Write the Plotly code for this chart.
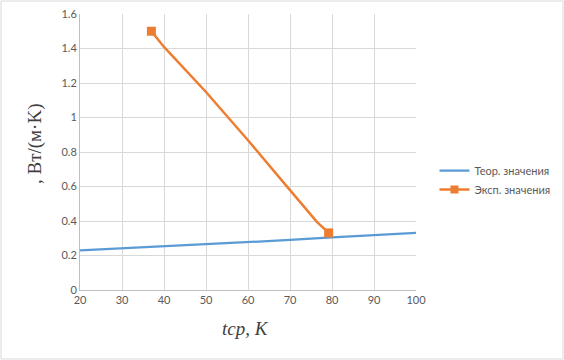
import plotly.graph_objects as go

theor_x = [20, 30, 40, 50, 60, 70, 80, 90, 100]
theor_y = [0.230, 0.242, 0.252, 0.265, 0.278, 0.290, 0.305, 0.318, 0.331]

exp_x = [37.0, 40, 50, 60, 70, 76.4, 79.2]
exp_y = [1.50, 1.409, 1.148, 0.868, 0.579, 0.395, 0.331]
exp_end_x = [exp_x[0], exp_x[-1]]
exp_end_y = [exp_y[0], exp_y[-1]]

x_ticks = [20, 30, 40, 50, 60, 70, 80, 90, 100]
y_ticks = [0, 0.2, 0.4, 0.6, 0.8, 1, 1.2, 1.4, 1.6]

W, H = 564, 360
L, R, T, B = 80, 148, 14, 70
pw, ph = W - L - R, H - T - B

BLUE = "#5b9bd5"
ORANGE = "#ed7d31"

fig = go.Figure()
fig.add_trace(go.Scatter(x=theor_x, y=theor_y, mode="lines", name="Теор. значения",
                         line=dict(color=BLUE, width=2.25)))
fig.add_trace(go.Scatter(x=exp_x, y=exp_y, mode="lines", name="Эксп. значения",
                         line=dict(color=ORANGE, width=2.5), showlegend=False))
fig.add_trace(go.Scatter(x=exp_end_x, y=exp_end_y, mode="markers", name="Эксп. значения",
                         marker=dict(symbol="square", size=9, color=ORANGE), showlegend=False))
fig.add_trace(go.Scatter(x=[None], y=[None], mode="lines+markers", name="Эксп. значения",
                         line=dict(color=ORANGE, width=2.5),
                         marker=dict(symbol="square", size=8, color=ORANGE)))

axis_common = dict(showgrid=True, gridcolor="#d9d9d9", gridwidth=1, zeroline=False,
                   showline=True, linecolor="#bfbfbf", linewidth=1, automargin=False,
                   tickfont=dict(family="Lato", size=11, color="#595959"), ticks="")

fig.update_layout(
    width=W, height=H,
    margin=dict(l=L, r=R, t=T, b=B, autoexpand=False),
    paper_bgcolor="white", plot_bgcolor="white",
    xaxis=dict(range=[20, 100], tickvals=x_ticks, **axis_common),
    yaxis=dict(range=[0, 1.6], tickvals=y_ticks, **axis_common),
    legend=dict(x=1.055, y=(290 - 180) / ph, xanchor="left", yanchor="middle",
                font=dict(family="Lato", size=11, color="#595959"),
                bgcolor="rgba(0,0,0,0)", tracegroupgap=2),
    showlegend=True,
)

fig.add_annotation(text=", Вт/(м·K)", xref="paper", yref="paper",
                   x=(35 - L) / pw, y=(290 - 144) / ph, xanchor="center", yanchor="middle",
                   textangle=-90, showarrow=False,
                   font=dict(family="Liberation Serif", size=19, color="#404040"))
fig.add_annotation(text="<i>tср, K</i>", xref="paper", yref="paper",
                   x=(245 - L) / pw, y=-(328 - 290) / ph, xanchor="center", yanchor="middle",
                   showarrow=False,
                   font=dict(family="Liberation Serif", size=19, color="#404040"))

fig.add_shape(type="rect", xref="paper", yref="paper",
              x0=-(L - 1) / pw, x1=1 + (R - 1) / pw, y0=-(B - 1) / ph, y1=1 + (T - 1) / ph,
              line=dict(color="#d9d9d9", width=1), layer="below")

fig.write_html("out.html", config={"displayModeBar": False},
               post_script="document.body.style.margin='0';document.body.style.overflow='hidden';")
